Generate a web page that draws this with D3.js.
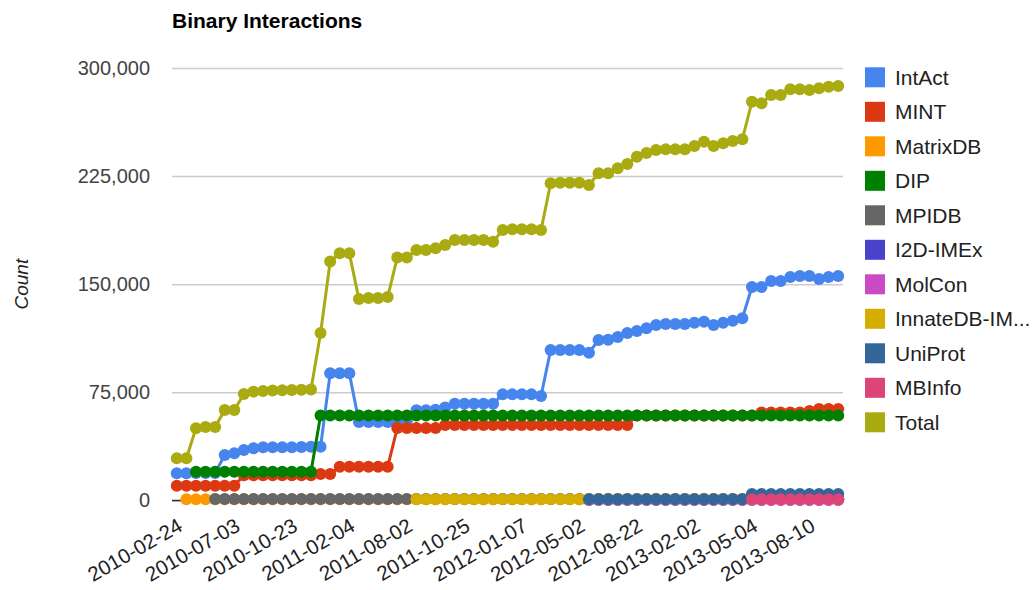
<!DOCTYPE html>
<html><head><meta charset="utf-8">
<script src="https://cdn.jsdelivr.net/npm/d3@7"></script>
<style>body{margin:0;background:#fff;} svg{display:block;font-family:Arial,"Liberation Sans",sans-serif;}</style>
</head><body><svg id="chart" width="1032" height="590"></svg>
<script>
// ---- data ----
const chartTitle = "Binary Interactions";
const yAxisTitle = "Count";
const tickLabels = ["2010-02-24","2010-07-03","2010-10-23","2011-02-04","2011-08-02","2011-10-25",
  "2012-01-07","2012-05-02","2012-08-22","2013-02-02","2013-05-04","2013-08-10"];
const tickIndex = [0,6,12,18,24,30,36,42,48,54,60,66];
const yTicks = [0,75000,150000,225000,300000];

const seriesNames = ["IntAct","MINT","MatrixDB","DIP","MPIDB","I2D-IMEx","MolCon","InnateDB-IM...","UniProt","MBInfo","Total"];
const seriesColors = ["#4684EE","#DC3912","#FF9900","#008000","#666666","#4942CC","#CB4AC5","#D6AE00","#336699","#DD4477","#AAAA11"];

const intact = [18900,18900,19000,19000,19000,31600,32700,35000,36200,36900,
  36900,36900,37000,37100,37200,37300,88200,88200,88200,54500,
  54500,54500,54500,54700,54900,62600,62600,63000,64500,67100,
  67100,67100,67100,67100,73600,73600,73600,73600,72500,104400,
  104400,104400,104400,102500,111300,111500,113400,116200,117500,119400,
  121700,122400,122400,122400,123300,124000,121700,123300,124700,126400,
  148100,148100,152200,152200,155000,155700,155700,153600,155000,155700];
const mint = [10300,10300,10300,10300,10300,10300,10300,17500,17500,17500,
  17500,17500,17500,17500,17500,18400,18400,23400,23400,23400,
  23400,23400,23400,50300,50300,50300,50300,50300,52400,52400,
  52400,52400,52400,52400,52400,52400,52400,52400,52400,52400,
  52400,52400,52400,52400,52400,52400,52400,52400,59000,59000,
  59000,59000,59000,59000,59000,59000,59000,59000,59000,59000,
  59000,61000,61000,61000,61000,61000,62000,63500,63500,63500];
const matrixdb = [null,900,900,900,900,900,900,900,900,900,
  900,900,900,900,900,900,900,900,900,900,
  900,900,900,900,900,900,900,900,900,900,
  900,900,900,900,900,900,900,900,900,900,
  900,900,900,900,900,900,900,900,900,900,
  900,900,900,900,900,900,900,900,900,900,
  900,900,900,900,900,900,900,900,900,900];
const dip = [null,null,20000,20000,20000,20000,20000,20000,20000,20000,
  20000,20000,20000,20000,20000,59000,59000,59000,59000,59000,
  59000,59000,59000,59000,59000,59000,59000,59000,59000,59000,
  59000,59000,59000,59000,59000,59000,59000,59000,59000,59000,
  59000,59000,59000,59000,59000,59000,59000,59000,59000,59000,
  59000,59000,59000,59000,59000,59000,59000,59000,59000,59000,
  59000,59000,59000,59000,59000,59000,59000,59000,59000,59000];
const mpidb = [null,null,null,null,1000,1000,1000,1000,1000,1000,
  1000,1000,1000,1000,1000,1000,1000,1000,1000,1000,
  1000,1000,1000,1000,1000,1000,1000,1000,1000,1000,
  1000,1000,1000,1000,1000,1000,1000,1000,1000,1000,
  1000,1000,1000,1000,1000,1000,1000,1000,1000,1000,
  1000,1000,1000,1000,1000,1000,1000,1000,1000,1000,
  1000,1000,1000,1000,1000,1000,1000,1000,1000,1000];
const i2dimex = [null,null,null,null,null,null,null,null,null,null,
  null,null,null,null,null,null,null,null,null,null,
  null,null,null,null,null,null,null,null,null,null,
  null,null,null,null,null,null,null,null,null,null,
  null,null,null,600,600,600,600,600,600,600,
  600,600,600,600,600,600,600,600,600,600,
  600,600,600,600,600,600,600,600,600,600];
const molcon = [null,null,null,null,null,null,null,null,null,null,
  null,null,null,null,null,null,null,null,null,null,
  null,null,null,null,null,null,null,null,null,null,
  null,null,null,null,null,null,null,null,null,null,
  null,null,null,400,400,400,400,400,400,400,
  400,400,400,400,400,400,400,400,400,400,
  400,400,400,400,400,400,400,400,400,400];
const innatedb = [null,null,null,null,null,null,null,null,null,null,
  null,null,null,null,null,null,null,null,null,null,
  null,null,null,null,null,900,900,900,900,900,
  900,900,900,900,900,900,900,900,900,900,
  900,900,900,900,900,900,900,900,900,900,
  900,900,900,900,900,900,900,900,900,900,
  900,900,900,900,900,900,900,900,900,900];
const uniprot = [null,null,null,null,null,null,null,null,null,null,
  null,null,null,null,null,null,null,null,null,null,
  null,null,null,null,null,null,null,null,null,null,
  null,null,null,null,null,null,null,null,null,null,
  null,null,null,900,900,900,900,900,900,900,
  900,900,900,900,900,900,900,900,900,900,
  4500,4500,4500,4500,4500,4500,4500,4500,4500,4500];
const mbinfo = [null,null,null,null,null,null,null,null,null,null,
  null,null,null,null,null,null,null,null,null,null,
  null,null,null,null,null,null,null,null,null,null,
  null,null,null,null,null,null,null,null,null,null,
  null,null,null,null,null,null,null,null,null,null,
  null,null,null,null,null,null,null,null,null,null,
  800,800,800,800,800,800,800,800,800,800];
const total = [29300,29300,50100,51000,51000,62800,62800,73900,75500,76000,
  76300,76500,76700,76800,77000,116200,165700,171400,171400,139700,
  140400,140400,141100,168500,168500,173700,173700,174900,177200,180700,
  180700,180700,180700,179500,187600,188100,188100,188100,187600,220000,
  220400,220400,220400,218800,226900,226900,230400,233400,238400,241000,
  243100,243500,243500,243500,245800,248800,245800,247700,249300,250500,
  276600,275400,281200,281200,285200,285200,284700,285900,287000,287400];

const seriesValues = [intact,mint,matrixdb,dip,mpidb,i2dimex,molcon,innatedb,uniprot,mbinfo,total];

// ---- drawing ----
const svg = d3.select("#chart");
const plot = {left:172, right:843, top:67.9, bottom:500.5};
const n = total.length;
const x = d3.scalePoint().domain(d3.range(n)).range([plot.left, plot.right]).padding(0.5);
const y = d3.scaleLinear().domain([0,300000]).range([plot.bottom, plot.top]);

// title
svg.append("text").attr("x",172).attr("y",28).attr("font-size",21).attr("font-weight","bold")
  .attr("fill","#000").text(chartTitle);

// gridlines + y labels
const yAxis = d3.axisLeft(y).tickValues(yTicks).tickFormat(d3.format(","))
  .tickSize(-(plot.right-plot.left)).tickPadding(22);
const gy = svg.append("g").attr("transform",`translate(${plot.left},0)`).call(yAxis);
gy.select(".domain").remove();
gy.selectAll(".tick line").attr("stroke","#cccccc").attr("stroke-width",1.5);
gy.selectAll(".tick text").attr("font-size",20).attr("fill","#444").attr("font-family","Arial,'Liberation Sans',sans-serif");
// baseline
svg.append("line").attr("x1",plot.left).attr("x2",plot.right).attr("y1",y(0)).attr("y2",y(0))
  .attr("stroke","#333").attr("stroke-width",1.5);

// y axis title
svg.append("text").attr("transform",`translate(28,${(plot.top+plot.bottom)/2}) rotate(-90)`)
  .attr("text-anchor","middle").attr("font-size",19).attr("font-style","italic").attr("fill","#222").text(yAxisTitle);

// x axis labels
const xAxis = d3.axisBottom(x).tickValues(tickIndex).tickFormat((d,i)=>tickLabels[i]).tickSize(0).tickPadding(0);
const gx = svg.append("g").attr("transform",`translate(0,${plot.bottom})`).call(xAxis);
gx.select(".domain").remove();
gx.selectAll(".tick text").attr("font-size",20.5).attr("fill","#222")
  .attr("font-family","Arial,'Liberation Sans',sans-serif")
  .attr("text-anchor","end").attr("dy","0.35em")
  .attr("transform","translate(3,23) rotate(-30)");

// series
const line = d3.line().defined(d=>d.v!=null).x(d=>x(d.i)).y(d=>y(d.v));
seriesValues.forEach((vals,si)=>{
  const pts = vals.map((v,i)=>({i,v}));
  const g = svg.append("g");
  g.append("path").datum(pts).attr("d",line).attr("fill","none")
    .attr("stroke",seriesColors[si]).attr("stroke-width",3);
  g.selectAll("circle").data(pts.filter(d=>d.v!=null)).join("circle")
    .attr("cx",d=>x(d.i)).attr("cy",d=>y(d.v)).attr("r",6).attr("fill",seriesColors[si]);
});

// legend
const legend = svg.append("g");
seriesNames.forEach((name,k)=>{
  const cy = 77.3 + 34.5*k;
  legend.append("rect").attr("x",865).attr("y",cy-10).attr("width",20).attr("height",20).attr("fill",seriesColors[k]);
  legend.append("text").attr("x",895).attr("y",cy).attr("dy","0.35em").attr("font-size",21).attr("fill","#222").text(name);
});
</script></body></html>
